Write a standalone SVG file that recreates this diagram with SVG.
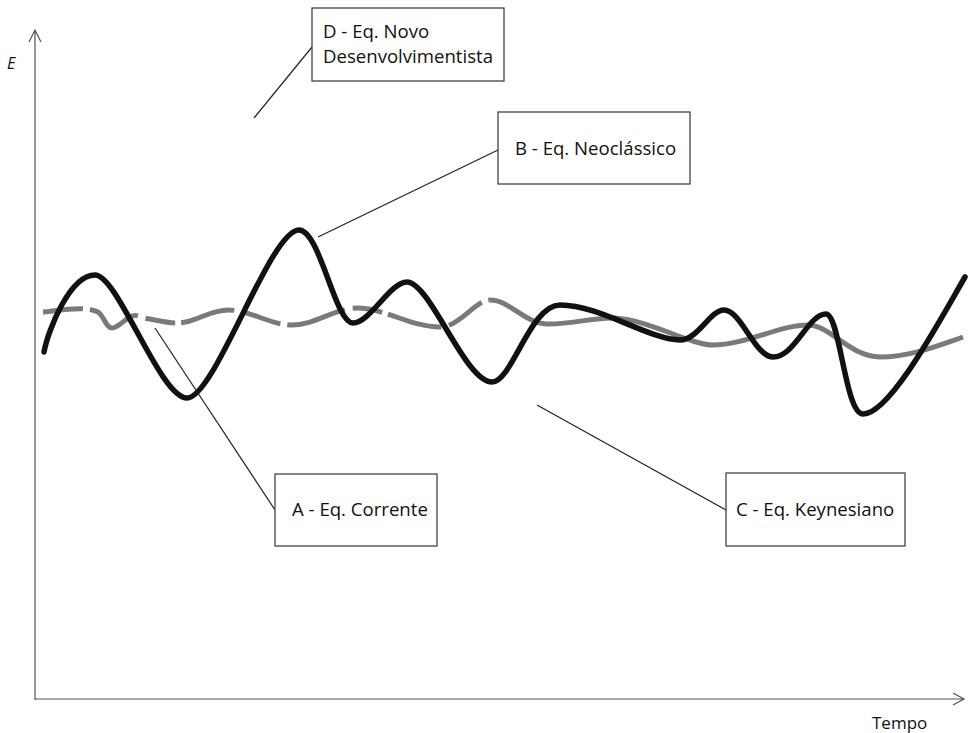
<svg xmlns="http://www.w3.org/2000/svg" width="970" height="733" viewBox="0 0 970 733">
<style>
.box{fill:#fff;stroke:#444;stroke-width:1.3}
.lbl{font-family:"Open Sans","Noto Sans",sans-serif;font-size:18.6px;fill:#111}
.conn{stroke:#222;stroke-width:1.2;fill:none}
.axis{stroke:#555;stroke-width:1.2;fill:none}
.black{stroke:#111;stroke-width:5.5;fill:none;stroke-linecap:round}
.gray{stroke:#7a7a7a;stroke-width:5;fill:none}
</style>
<rect width="970" height="733" fill="#fff"/>
<g id="axes">
<path class="axis" d="M35,700 V30 M29,42 L35,30 L41,42"/>
<path class="axis" d="M35,699 H964 M953,693 L964,699 L953,705"/>
<text x="7" y="69" font-family="Open Sans, sans-serif" font-style="italic" font-size="16" fill="#111">E</text>
<text x="872" y="729" font-family="Open Sans, sans-serif" font-size="17" fill="#111">Tempo</text>
</g>
<g id="curves">
<path class="gray" stroke-dasharray="40 7 60 8 30 6 55 8" d="M43,312 C55,311 85,305 98,312 C104,316 106,328 112,328 C118,328 124,320 130,317 C137,313 140,318 150,319 C165,322 175,325 190,321 C205,316 215,310 228,310 C250,310 270,325 292,325 C315,325 335,308 357,308 C385,308 410,327 440,327 C460,327 475,300 490,300"/>
<path class="gray" d="M490,300 C510,300 525,324 548,324 C575,324 595,317 615,318 C650,320 690,345 713,345 C745,345 780,325 808,325 C830,325 850,357 880,357 C910,357 940,345 963,337"/>
<path class="black" d="M44,352 C48,330 70,275 95,275 C118,275 160,398 187,398 C215,398 270,230 299,230 C320,230 335,323 353,323 C370,323 390,282 407,282 C430,282 465,382 492,382 C512,382 530,305 560,305 C600,305 650,340 680,340 C698,340 710,310 724,310 C741,310 755,357 773,357 C795,357 808,314 826,314 C840,314 845,414 863,414 C890,414 940,320 965,277"/>
</g>
<g id="connectors">
<line class="conn" x1="254" y1="118" x2="312" y2="47"/>
<line class="conn" x1="318" y1="237" x2="498" y2="150"/>
<line class="conn" x1="155" y1="328" x2="275" y2="510"/>
<line class="conn" x1="537" y1="405" x2="726" y2="510"/>
</g>
<g id="nodeD">
<rect class="box" x="312" y="8" width="192" height="73"/>
<text class="lbl" x="323" y="38">D - Eq. Novo</text>
<text class="lbl" x="323" y="63">Desenvolvimentista</text>
</g>
<g id="nodeB">
<rect class="box" x="498" y="112" width="192" height="72"/>
<text class="lbl" x="515" y="155">B - Eq. Neoclássico</text>
</g>
<g id="nodeA">
<rect class="box" x="275" y="474" width="162" height="72"/>
<text class="lbl" x="292" y="516">A - Eq. Corrente</text>
</g>
<g id="nodeC">
<rect class="box" x="726" y="473" width="179" height="73"/>
<text class="lbl" x="736" y="516">C - Eq. Keynesiano</text>
</g>
</svg>
